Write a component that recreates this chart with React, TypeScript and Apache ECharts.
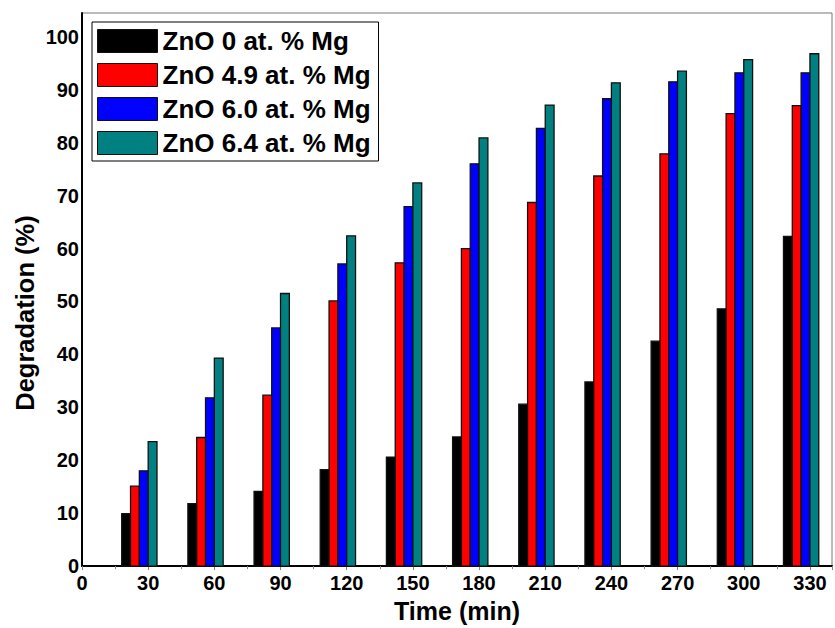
import React, { useEffect, useRef } from "react";
import * as echarts from "echarts";

const times = [30, 60, 90, 120, 150, 180, 210, 240, 270, 300, 330];
const seriesNames = ["ZnO 0 at. % Mg", "ZnO 4.9 at. % Mg", "ZnO 6.0 at. % Mg", "ZnO 6.4 at. % Mg"];
const mg0 = [9.9, 11.8, 14.1, 18.2, 20.6, 24.4, 30.6, 34.8, 42.5, 48.6, 62.3];
const mg49 = [15.1, 24.3, 32.3, 50.1, 57.3, 60.0, 68.7, 73.7, 77.9, 85.5, 87.0];
const mg60 = [18.0, 31.8, 45.0, 57.1, 67.9, 76.0, 82.7, 88.3, 91.5, 93.2, 93.2];
const mg64 = [23.5, 39.3, 51.5, 62.4, 72.4, 80.9, 87.1, 91.3, 93.5, 95.7, 96.8];
const xTicks = [0, 30, 60, 90, 120, 150, 180, 210, 240, 270, 300, 330];
const yTicks = [0, 10, 20, 30, 40, 50, 60, 70, 80, 90, 100];

const colors = ["#000000", "#ff0000", "#0000ff", "#008080"];
const FONT = "'Liberation Sans', Arial, sans-serif";
const BAR_W = 4; // in x-axis units
const OFFSETS = [-12, -8, -4, 0];

export default function App() {
  const ref = useRef<HTMLDivElement>(null);
  useEffect(() => {
    document.body.style.margin = "0";
    const chart = echarts.init(ref.current!, undefined, { renderer: "svg" });
    const allVals = [mg0, mg49, mg60, mg64];
    const series = allVals.map((vals, si) => ({
      type: "custom",
      name: seriesNames[si],
      itemStyle: { color: colors[si], borderColor: "#000", borderWidth: 1 },
      data: times.map((t, i) => [t, vals[i]]),
      encode: { x: 0, y: 1 },
      renderItem: (params: any, api: any) => {
        const x = api.value(0);
        const y = api.value(1);
        const p0 = api.coord([x + OFFSETS[si], y]);
        const p1 = api.coord([x + OFFSETS[si] + BAR_W, 0]);
        return {
          type: "rect",
          shape: { x: p0[0], y: p0[1], width: p1[0] - p0[0], height: p1[1] - p0[1] },
          style: { fill: colors[si], stroke: "#111", lineWidth: 1.3 },
        };
      },
    }));
    chart.setOption({
      animation: false,
      backgroundColor: "#ffffff",
      grid: {
        left: 82,
        top: 13,
        bottom: 61.3,
        right: -3,
        show: true,
        borderColor: "#777",
        borderWidth: 1,
        backgroundColor: "transparent",
      },
      legend: {
        left: 92,
        top: 22,
        orient: "vertical",
        padding: [6, 8, 5, 5],
        borderColor: "#000",
        borderWidth: 1,
        backgroundColor: "#fff",
        itemWidth: 60,
        itemHeight: 23,
        itemGap: 8,
        itemTextGap: 8,
        icon: "rect",
        textStyle: { fontFamily: FONT, fontWeight: "bold", fontSize: 26, color: "#000", lineHeight: 24 },
        data: seriesNames.map((n, i) => ({
          name: n,
          itemStyle: { color: colors[i], borderColor: "#111", borderWidth: 1 },
        })),
      },
      xAxis: {
        type: "value",
        min: 0,
        max: 340,
        interval: 30,
        name: "Time (min)",
        nameLocation: "middle",
        nameGap: 31,
        nameTextStyle: { fontFamily: FONT, fontWeight: "bold", fontSize: 25, color: "#000" },
        axisLine: { show: true, onZero: false, lineStyle: { color: "#000", width: 2 } },
        axisTick: { show: true, length: 4, lineStyle: { color: "#888", width: 1 } },
        minorTick: { show: true, splitNumber: 2, length: 3, lineStyle: { color: "#888", width: 1 } },
        splitLine: { show: false },
        axisLabel: {
          fontFamily: FONT,
          fontWeight: "bold",
          fontSize: 20,
          color: "#000",
          margin: 7,
          formatter: (v: number) => (xTicks.includes(v) ? String(v) : ""),
        },
      },
      yAxis: {
        type: "value",
        min: 0,
        max: 104.5,
        interval: 10,
        axisLine: { show: true, lineStyle: { color: "#000", width: 2 } },
        axisTick: { show: false },
        splitLine: { show: false },
        axisLabel: {
          fontFamily: FONT,
          fontWeight: "bold",
          fontSize: 20,
          color: "#000",
          margin: 3,
          formatter: (v: number) => (yTicks.includes(v) ? String(v) : ""),
        },
      },
      graphic: [
        {
          type: "text",
          x: 25,
          y: 313,
          rotation: Math.PI / 2,
          style: {
            text: "Degradation (%)",
            fontFamily: FONT,
            fontWeight: "bold",
            fontSize: 25.5,
            fill: "#000",
            align: "center",
            verticalAlign: "middle",
          },
        },
      ],
      series,
    });
    return () => chart.dispose();
  }, []);
  return <div ref={ref} style={{ width: 835, height: 628 }} />;
}
